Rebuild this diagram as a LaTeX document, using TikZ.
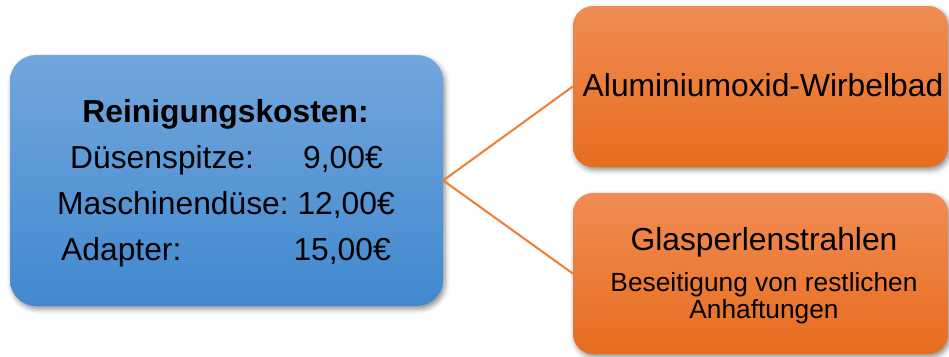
\documentclass[tikz,border=0pt]{standalone}
\usepackage{fontspec}
\setmainfont{Liberation Sans}
\newfontfamily\headfont{LiberationSans-Bold.ttf}
\usetikzlibrary{shadows,shadows.blur}
\definecolor{bluetop}{HTML}{72A6DC}
\definecolor{bluebot}{HTML}{4189CF}
\definecolor{orangetop}{HTML}{F08C54}
\definecolor{orangebot}{HTML}{E86D1E}
\definecolor{connorange}{HTML}{ED7D31}
\begin{document}
\begin{tikzpicture}[x=1pt,y=-1pt,
  bluebox/.style={rounded corners=26pt, top color=bluetop, bottom color=bluebot, draw=none, inner sep=0pt,
    blur shadow={shadow xshift=2pt, shadow yshift=-3pt, shadow blur radius=5pt, shadow opacity=45}},
  orangebox/.style={rounded corners=20pt, top color=orangetop, bottom color=orangebot, draw=none, inner sep=0pt,
    blur shadow={shadow xshift=2pt, shadow yshift=-3pt, shadow blur radius=5pt, shadow opacity=45}},
  bigtxt/.style={inner sep=0pt, font=\fontsize{31.8}{38}\selectfont},
  headtxt/.style={inner sep=0pt, font=\headfont\fontsize{31.8}{38}\selectfont},
  smalltxt/.style={inner sep=0pt, align=center, font=\fontsize{26.3}{27}\selectfont},
  conn/.style={draw=connorange, line width=2pt}]
\useasboundingbox (0,0) rectangle (949,356);

\node[bluebox, minimum width=433pt, minimum height=251pt] (cost) at (226.5,180.5) {};
\node[orangebox, minimum width=375pt, minimum height=161pt] (alu) at (760.5,86.5) {};
\node[orangebox, minimum width=375pt, minimum height=161pt] (glas) at (760.5,273.5) {};

\draw[conn] (alu.west) -- (cost.east) -- (glas.west);

\node[headtxt, anchor=base] (head) at (225.5,122) {Reinigungskosten:};
\node[bigtxt, anchor=base west] (l1) at (70,168) {Düsenspitze:};
\node[bigtxt, anchor=base east] (v1) at (383,168) {9,00€};
\node[bigtxt, anchor=base west] (l2) at (57,214) {Maschinendüse:};
\node[bigtxt, anchor=base east] (v2) at (395,214) {12,00€};
\node[bigtxt, anchor=base west] (l3) at (61,260) {Adapter:};
\node[bigtxt, anchor=base east] (v3) at (391,260) {15,00€};

\node[bigtxt, anchor=base] (alut) at (763,96) {Aluminiumoxid-Wirbelbad};
\node[bigtxt, anchor=base] (glast) at (764,250) {Glasperlenstrahlen};
\node[smalltxt, anchor=base] (b1) at (764,291) {Beseitigung von restlichen};
\node[smalltxt, anchor=base] (b2) at (764,318) {Anhaftungen};
\end{tikzpicture}
\end{document}
